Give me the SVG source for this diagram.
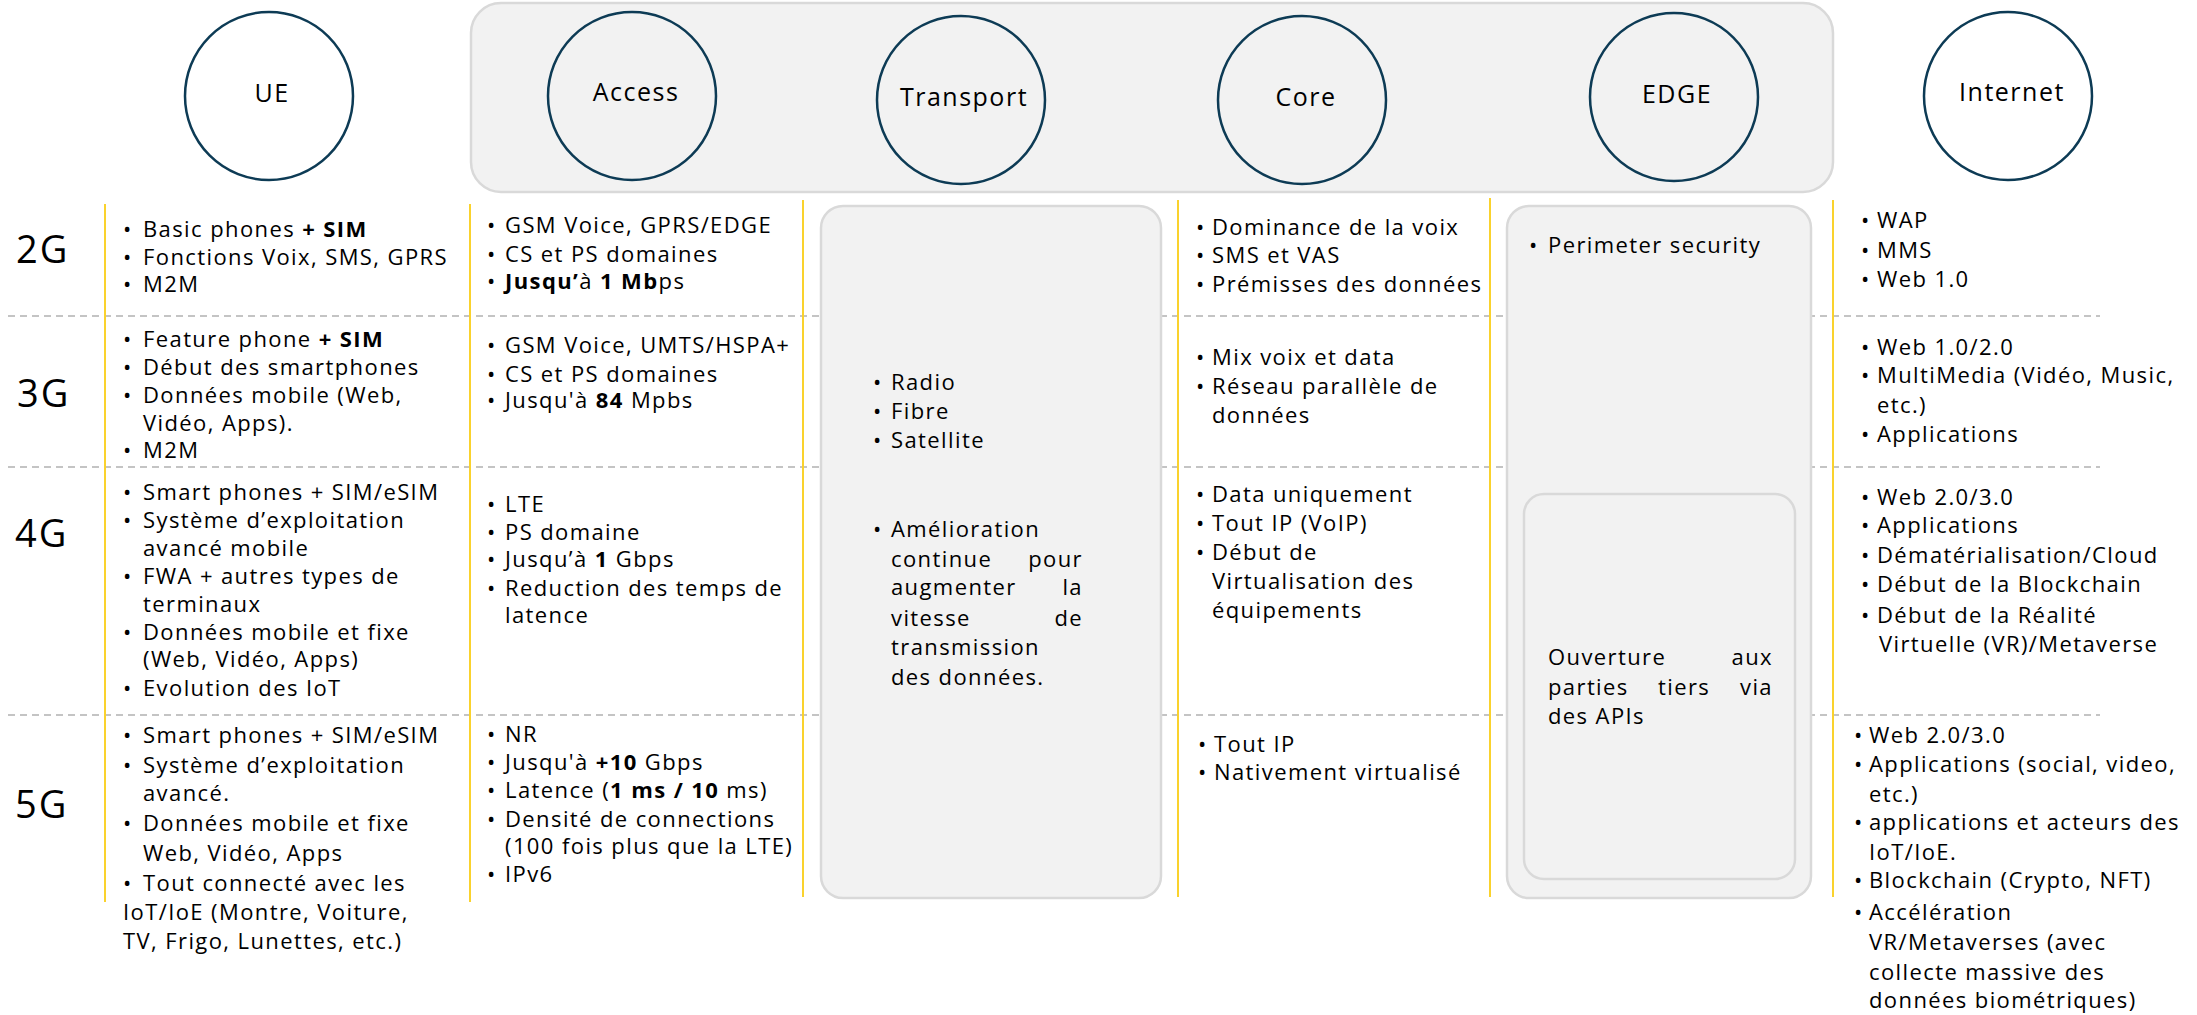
<svg xmlns="http://www.w3.org/2000/svg" width="2197" height="1015" viewBox="0 0 2197 1015">
  <style>
    text { font-family: "Open Sans", "Noto Sans", "Liberation Sans", sans-serif; fill: #000; }
    .t { font-size: 22px; letter-spacing: 1.4px; }
    .b { font-weight: 700; }
    .gen { font-size: 38px; letter-spacing: 2px; }
    .lbl { font-size: 25px; letter-spacing: 1.5px; text-anchor: middle; }
    .end { text-anchor: end; }
    .node { fill: none; stroke: #0D3B55; stroke-width: 2.5; }
    .panel { fill: #F2F2F2; stroke: #D9D9D9; stroke-width: 2.5; }
    .row { stroke: #C4C4C4; stroke-width: 2; stroke-dasharray: 7 5; fill: none; }
    .col { stroke: #FAD22D; stroke-width: 2; fill: none; }
  </style>

  <!-- network domain backdrop behind Access .. EDGE -->
  <rect id="domain-backdrop" class="panel" x="471" y="3" width="1362" height="189" rx="30"/>

  <!-- domain bubbles -->
  <g id="node-ue">
    <circle class="node" cx="269" cy="96" r="84"/>
    <text class="lbl" x="272" y="102">UE</text>
  </g>
  <g id="node-access">
    <circle class="node" cx="632" cy="96" r="84"/>
    <text class="lbl" x="636" y="101">Access</text>
  </g>
  <g id="node-transport">
    <circle class="node" cx="961" cy="100" r="84"/>
    <text class="lbl" x="964" y="106">Transport</text>
  </g>
  <g id="node-core">
    <circle class="node" cx="1302" cy="100" r="84"/>
    <text class="lbl" x="1306" y="106">Core</text>
  </g>
  <g id="node-edge">
    <circle class="node" cx="1674" cy="97" r="84"/>
    <text class="lbl" x="1677" y="103">EDGE</text>
  </g>
  <g id="node-internet">
    <circle class="node" cx="2008" cy="96" r="84"/>
    <text class="lbl" x="2012" y="101">Internet</text>
  </g>

  <!-- table grid: generation rows and column rules -->
  <g id="grid">
    <line class="row" x1="8" y1="316" x2="2100" y2="316"/>
    <line class="row" x1="8" y1="467" x2="2100" y2="467"/>
    <line class="row" x1="8" y1="715" x2="2100" y2="715"/>
    <line class="col" x1="105" y1="204" x2="105" y2="902"/>
    <line class="col" x1="470" y1="204" x2="470" y2="902"/>
    <line class="col" x1="803" y1="200" x2="803" y2="897"/>
    <line class="col" x1="1178" y1="200" x2="1178" y2="897"/>
    <line class="col" x1="1490" y1="198" x2="1490" y2="897"/>
    <line class="col" x1="1833" y1="200" x2="1833" y2="897"/>
  </g>

  <!-- generation labels -->
  <g id="generations">
    <text class="gen" x="16" y="263">2G</text>
    <text class="gen" x="17" y="407">3G</text>
    <text class="gen" x="15" y="547">4G</text>
    <text class="gen" x="15" y="818">5G</text>
  </g>

  <!-- UE column -->
  <g id="cell-ue" class="t">
    <text y="237"><tspan x="123">•</tspan><tspan x="143">Basic phones </tspan><tspan class="b">+ SIM</tspan></text>
    <text y="264.5"><tspan x="123">•</tspan><tspan x="143">Fonctions Voix, SMS, GPRS</tspan></text>
    <text y="292"><tspan x="123">•</tspan><tspan x="143">M2M</tspan></text>

    <text y="347"><tspan x="123">•</tspan><tspan x="143">Feature phone </tspan><tspan class="b">+ SIM</tspan></text>
    <text y="375"><tspan x="123">•</tspan><tspan x="143">Début des smartphones</tspan></text>
    <text y="403"><tspan x="123">•</tspan><tspan x="143">Données mobile (Web,</tspan></text>
    <text x="143" y="431">Vidéo, Apps).</text>
    <text y="458"><tspan x="123">•</tspan><tspan x="143">M2M</tspan></text>

    <text y="500"><tspan x="123">•</tspan><tspan x="143">Smart phones + SIM/eSIM</tspan></text>
    <text y="528"><tspan x="123">•</tspan><tspan x="143">Système d’exploitation</tspan></text>
    <text x="143" y="556">avancé mobile</text>
    <text y="584"><tspan x="123">•</tspan><tspan x="143">FWA + autres types de</tspan></text>
    <text x="143" y="612">terminaux</text>
    <text y="640"><tspan x="123">•</tspan><tspan x="143">Données mobile et fixe</tspan></text>
    <text x="143" y="667">(Web, Vidéo, Apps)</text>
    <text y="696"><tspan x="123">•</tspan><tspan x="143">Evolution des IoT</tspan></text>

    <text y="743"><tspan x="123">•</tspan><tspan x="143">Smart phones + SIM/eSIM</tspan></text>
    <text y="773"><tspan x="123">•</tspan><tspan x="143">Système d’exploitation</tspan></text>
    <text x="143" y="801">avancé.</text>
    <text y="831"><tspan x="123">•</tspan><tspan x="143">Données mobile et fixe</tspan></text>
    <text x="143" y="861">Web, Vidéo, Apps</text>
    <text y="891"><tspan x="123">•</tspan><tspan x="143">Tout connecté avec les</tspan></text>
    <text x="123" y="920">IoT/IoE (Montre, Voiture,</text>
    <text x="123" y="949">TV, Frigo, Lunettes, etc.)</text>
  </g>

  <!-- Access column -->
  <g id="cell-access" class="t">
    <text y="233"><tspan x="487">•</tspan><tspan x="505">GSM Voice, GPRS/EDGE</tspan></text>
    <text y="262"><tspan x="487">•</tspan><tspan x="505">CS et PS domaines</tspan></text>
    <text y="289"><tspan x="487">•</tspan><tspan x="505" class="b">Jusqu’</tspan><tspan>à </tspan><tspan class="b">1 Mb</tspan><tspan>ps</tspan></text>

    <text y="353"><tspan x="487">•</tspan><tspan x="505">GSM Voice, UMTS/HSPA+</tspan></text>
    <text y="382"><tspan x="487">•</tspan><tspan x="505">CS et PS domaines</tspan></text>
    <text y="408"><tspan x="487">•</tspan><tspan x="505">Jusqu'à </tspan><tspan class="b">84</tspan><tspan> Mpbs</tspan></text>

    <text y="512"><tspan x="487">•</tspan><tspan x="505">LTE</tspan></text>
    <text y="540"><tspan x="487">•</tspan><tspan x="505">PS domaine</tspan></text>
    <text y="567"><tspan x="487">•</tspan><tspan x="505">Jusqu’à </tspan><tspan class="b">1</tspan><tspan> Gbps</tspan></text>
    <text y="596"><tspan x="487">•</tspan><tspan x="505">Reduction des temps de</tspan></text>
    <text x="505" y="623">latence</text>

    <text y="742"><tspan x="487">•</tspan><tspan x="505">NR</tspan></text>
    <text y="770"><tspan x="487">•</tspan><tspan x="505">Jusqu'à </tspan><tspan class="b">+10</tspan><tspan> Gbps</tspan></text>
    <text y="798"><tspan x="487">•</tspan><tspan x="505">Latence (</tspan><tspan class="b">1 ms / 10</tspan><tspan> ms)</tspan></text>
    <text y="827"><tspan x="487">•</tspan><tspan x="505">Densité de connections</tspan></text>
    <text x="505" y="854">(100 fois plus que la LTE)</text>
    <text y="882"><tspan x="487">•</tspan><tspan x="505">IPv6</tspan></text>
  </g>

  <!-- Transport column -->
  <g id="cell-transport" class="t">
    <rect class="panel" x="821" y="206" width="340" height="692" rx="22"/>
    <text y="390"><tspan x="873">•</tspan><tspan x="891">Radio</tspan></text>
    <text y="419"><tspan x="873">•</tspan><tspan x="891">Fibre</tspan></text>
    <text y="448"><tspan x="873">•</tspan><tspan x="891">Satellite</tspan></text>
    <text y="537"><tspan x="873">•</tspan><tspan x="891">Amélioration</tspan></text>
    <text x="891" y="567">continue</text><text class="end" x="1083" y="567">pour</text>
    <text x="891" y="595">augmenter</text><text class="end" x="1083" y="595">la</text>
    <text x="891" y="626">vitesse</text><text class="end" x="1083" y="626">de</text>
    <text x="891" y="655">transmission</text>
    <text x="891" y="685">des données.</text>
  </g>

  <!-- Core column -->
  <g id="cell-core" class="t">
    <text y="235"><tspan x="1196">•</tspan><tspan x="1212">Dominance de la voix</tspan></text>
    <text y="263"><tspan x="1196">•</tspan><tspan x="1212">SMS et VAS</tspan></text>
    <text y="292"><tspan x="1196">•</tspan><tspan x="1212">Prémisses des données</tspan></text>

    <text y="365"><tspan x="1196">•</tspan><tspan x="1212">Mix voix et data</tspan></text>
    <text y="394"><tspan x="1196">•</tspan><tspan x="1212">Réseau parallèle de</tspan></text>
    <text x="1212" y="423">données</text>

    <text y="502"><tspan x="1196">•</tspan><tspan x="1212">Data uniquement</tspan></text>
    <text y="531"><tspan x="1196">•</tspan><tspan x="1212">Tout IP (VoIP)</tspan></text>
    <text y="560"><tspan x="1196">•</tspan><tspan x="1212">Début de</tspan></text>
    <text x="1212" y="589">Virtualisation des</text>
    <text x="1212" y="618">équipements</text>

    <text y="752"><tspan x="1198">•</tspan><tspan x="1214">Tout IP</tspan></text>
    <text y="780"><tspan x="1198">•</tspan><tspan x="1214">Nativement virtualisé</tspan></text>
  </g>

  <!-- EDGE column -->
  <g id="cell-edge" class="t">
    <rect class="panel" x="1507" y="206" width="304" height="692" rx="22"/>
    <rect class="panel" x="1524" y="494" width="271" height="385" rx="20"/>
    <text y="253"><tspan x="1529">•</tspan><tspan x="1548">Perimeter security</tspan></text>
    <text x="1548" y="665">Ouverture</text><text class="end" x="1773" y="665">aux</text>
    <text x="1548" y="695">parties</text><text x="1658" y="695">tiers</text><text class="end" x="1773" y="695">via</text>
    <text x="1548" y="724">des APIs</text>
  </g>

  <!-- Internet column -->
  <g id="cell-internet" class="t">
    <text y="228"><tspan x="1861">•</tspan><tspan x="1877">WAP</tspan></text>
    <text y="258"><tspan x="1861">•</tspan><tspan x="1877">MMS</tspan></text>
    <text y="287"><tspan x="1861">•</tspan><tspan x="1877">Web 1.0</tspan></text>

    <text y="355"><tspan x="1861">•</tspan><tspan x="1877">Web 1.0/2.0</tspan></text>
    <text y="383"><tspan x="1861">•</tspan><tspan x="1877">MultiMedia (Vidéo, Music,</tspan></text>
    <text x="1877" y="413">etc.)</text>
    <text y="442"><tspan x="1861">•</tspan><tspan x="1877">Applications</tspan></text>

    <text y="505"><tspan x="1861">•</tspan><tspan x="1877">Web 2.0/3.0</tspan></text>
    <text y="533"><tspan x="1861">•</tspan><tspan x="1877">Applications</tspan></text>
    <text y="563"><tspan x="1861">•</tspan><tspan x="1877">Dématérialisation/Cloud</tspan></text>
    <text y="592"><tspan x="1861">•</tspan><tspan x="1877">Début de la Blockchain</tspan></text>
    <text y="623"><tspan x="1861">•</tspan><tspan x="1877">Début de la Réalité</tspan></text>
    <text x="1879" y="652">Virtuelle (VR)/Metaverse</text>

    <text y="743"><tspan x="1854">•</tspan><tspan x="1869">Web 2.0/3.0</tspan></text>
    <text y="772"><tspan x="1854">•</tspan><tspan x="1869">Applications (social, video,</tspan></text>
    <text x="1869" y="802">etc.)</text>
    <text y="830"><tspan x="1854">•</tspan><tspan x="1869">applications et acteurs des</tspan></text>
    <text x="1869" y="860">IoT/IoE.</text>
    <text y="888"><tspan x="1854">•</tspan><tspan x="1869">Blockchain (Crypto, NFT)</tspan></text>
    <text y="920"><tspan x="1854">•</tspan><tspan x="1869">Accélération</tspan></text>
    <text x="1869" y="950">VR/Metaverses (avec</text>
    <text x="1869" y="980">collecte massive des</text>
    <text x="1869" y="1008">données biométriques)</text>
  </g>
</svg>
